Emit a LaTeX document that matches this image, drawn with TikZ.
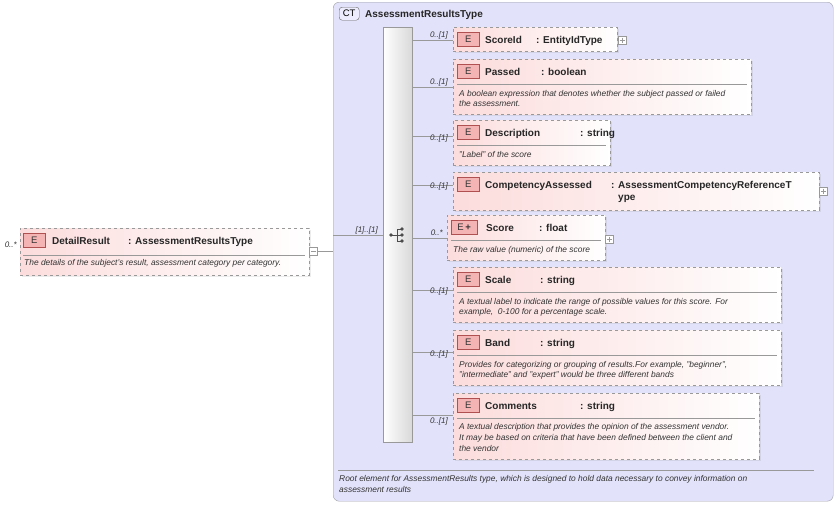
\documentclass[tikz,border=0pt]{standalone}
\usepackage{fontspec}
\setmainfont{Liberation Sans}
\usetikzlibrary{shadows}
\definecolor{ctfill}{HTML}{E2E2FA}
\definecolor{ctborder}{HTML}{A0A0A8}
\definecolor{epink}{HTML}{FCDCDC}
\definecolor{ebadge}{HTML}{F4B4B4}
\definecolor{ebadgeb}{HTML}{B05050}
\definecolor{lgray}{HTML}{999999}
\tikzset{
 elembox/.style={draw=lgray, dashed, left color=epink, right color=white, shading angle=90, inner sep=0, anchor=north west, drop shadow={opacity=0.15, shadow xshift=1.5pt, shadow yshift=-1.5pt}},
 badge/.style={draw=ebadgeb, fill=ebadge, minimum width=22pt, minimum height=14pt, inner sep=0, font=\fontsize{9.5}{10}\selectfont, text=black!80, anchor=north west},
 ttl/.style={anchor=base west, inner sep=0, font=\fontsize{10}{12}\bfseries, text=black!85},
 doc/.style={anchor=base west, inner sep=0, font=\fontsize{8.4}{9}\itshape, text=black!80},
 card/.style={anchor=base east, inner sep=0, font=\fontsize{8}{9}\itshape, text=black!80},
 conn/.style={draw=lgray, line width=0.5pt},
 plusbox/.style={draw=lgray, fill=white, minimum size=8pt, inner sep=0},
}
\newcommand\pluss[1]{\draw[lgray] (#1.center) ++(-2.5,0) -- ++(5,0) (#1.center) ++(0,-2.5) -- ++(0,5);}
\begin{document}
\begin{tikzpicture}[x=1pt,y=-1pt]
\useasboundingbox (0,0) rectangle (837,504);
% complex type
\node[draw=ctborder, fill=ctfill, rounded corners=6pt, minimum width=500pt, minimum height=499pt, anchor=north west, inner sep=0] (ct) at (333,2) {};
\node[draw=black!60, fill=ctfill!70!blue!20, rounded corners=3pt, minimum width=20pt, minimum height=13pt, inner sep=0, anchor=north west, font=\fontsize{9.5}{10}\selectfont] (ctb) at (339,7) {CT};
\node[ttl] (ctt) at (365,17) {AssessmentResultsType};
\draw[lgray] (338,470) -- (814,470);
\node[doc] (ctd1) at (339,481) {Root element for AssessmentResults type, which is designed to hold data necessary to convey information on};
\node[doc] (ctd2) at (339,492) {assessment results};
% sequence bar
\node[draw=lgray, left color=white, right color=black!15, shading angle=90, minimum width=29pt, minimum height=415pt, anchor=north west, inner sep=0] (seq) at (383,27) {};
\coordinate (si) at (391,235);
\fill[black!70] (si) circle (1.8);
\draw[black!70, line width=0.8pt] (si) -- (397,235) (397,229) -- (397,241) (397,229) -- (401,229) (397,235) -- (401,235) (397,241) -- (401,241);
\fill[black!70] (402,229) circle (1.8) (402,235) circle (1.8) (402,241) circle (1.8);
% root element
\node[elembox, minimum width=289pt, minimum height=47pt] (root) at (20,228) {};
\draw[lgray] (23,255) -- (305,255);
\node[badge] (rootb) at (23,233) {E};
\node[ttl] (rootn) at (52,244) {DetailResult};
\node[ttl] (roott) at (128,244) {: AssessmentResultsType};
\node[doc] (rootd) at (24,265) {The details of the subject's result, assessment category per category.};
\node[card] (rootc) at (17,247) {0..*};
\node[plusbox] (rootm) at (313.5,251) {};
\draw[lgray] (rootm.center) ++(-2.5,0) -- ++(5,0);
\coordinate (j1) at (333,251);
\coordinate (j2) at (333,235);
\draw[conn] (rootm.east) -- (j1);
\draw[conn] (j2) -- (seq.west |- j2);
\node[card] (rc) at (378,232) {[1]..[1]};
% children
\newcommand\child[9]{%
 \node[elembox, minimum width=#4pt, minimum height=#5pt] (#1) at (#2,#3) {};
 \coordinate (#1c) at (412,#7);
 \draw[conn] (#1c) -- (#1.west |- #1c);
 \node[badge] (#1b) at (#2+4,#3+5) {E};
 \node[ttl] (#1n) at (#2+32,#3+16) {#8};
 \node[ttl] (#1t) at (#9,#3+16) {#6};
}
\child{c1}{453}{27}{164}{24}{: EntityIdType}{40}{ScoreId}{536}
\node[card] (c1k) at (448,37) {0..[1]};
\node[plusbox] (c1p) at (622,40) {};
\pluss{c1p}

\child{c2}{453}{59}{298}{55}{: boolean}{87}{Passed}{541}
\node[card] (c2k) at (448,84) {0..[1]};
\draw[lgray] (457,84) -- (747,84);
\node[doc] (c2d1) at (459,96) {A boolean expression that denotes whether the subject passed or failed};
\node[doc] (c2d2) at (459,106) {the assessment.};

\child{c3}{453}{120}{157}{45}{: string}{136}{Description}{580}
\node[card] (c3k) at (448,140) {0..[1]};
\draw[lgray] (457,145) -- (606,145);
\node[doc] (c3d1) at (459,157) {"Label" of the score};

\child{c4}{453}{172}{366}{38}{: AssessmentCompetencyReferenceT}{185}{CompetencyAssessed}{611}
\node[ttl] (c4t2) at (618,200) {ype};
\node[card] (c4k) at (448,188) {0..[1]};
\node[plusbox] (c4p) at (823.5,191) {};
\pluss{c4p}

% Score (with its own badge)
\node[elembox, minimum width=158pt, minimum height=45pt] (c5) at (447,215) {};
\coordinate (c5c) at (412,238);
\draw[conn] (c5c) -- (c5.west |- c5c);
\node[badge, minimum width=26pt] (c5b) at (451,220) {E\,\textbf{+}};
\node[ttl] (c5n) at (486,231) {Score};
\node[ttl] (c5t) at (539,231) {: float};
\node[card] (c5k) at (443,235) {0..*};
\draw[lgray] (451,240) -- (601,240);
\node[doc] (c5d1) at (453,252) {The raw value (numeric) of the score};
\node[plusbox] (c5p) at (609.5,239) {};
\pluss{c5p}

\child{c6}{453}{267}{328}{55}{: string}{290}{Scale}{540}
\node[card] (c6k) at (448,293) {0..[1]};
\draw[lgray] (457,292) -- (777,292);
\node[doc] (c6d1) at (459,304) {A textual label to indicate the range of possible values for this score. For};
\node[doc] (c6d2) at (459,314) {example,\ \ 0-100 for a percentage scale.};

\child{c7}{453}{330}{328}{55}{: string}{352}{Band}{540}
\node[card] (c7k) at (448,356) {0..[1]};
\draw[lgray] (457,355) -- (777,355);
\node[doc] (c7d1) at (459,367) {Provides for categorizing or grouping of results.For example, "beginner",};
\node[doc] (c7d2) at (459,377) {"intermediate" and "expert" would be three different bands};

\child{c8}{453}{393}{306}{66}{: string}{415}{Comments}{580}
\node[card] (c8k) at (448,423) {0..[1]};
\draw[lgray] (457,418) -- (755,418);
\node[doc] (c8d1) at (459,429) {A textual description that provides the opinion of the assessment vendor.};
\node[doc] (c8d2) at (459,440) {It may be based on criteria that have been defined between the client and};
\node[doc] (c8d3) at (459,451) {the vendor};
\end{tikzpicture}
\end{document}
